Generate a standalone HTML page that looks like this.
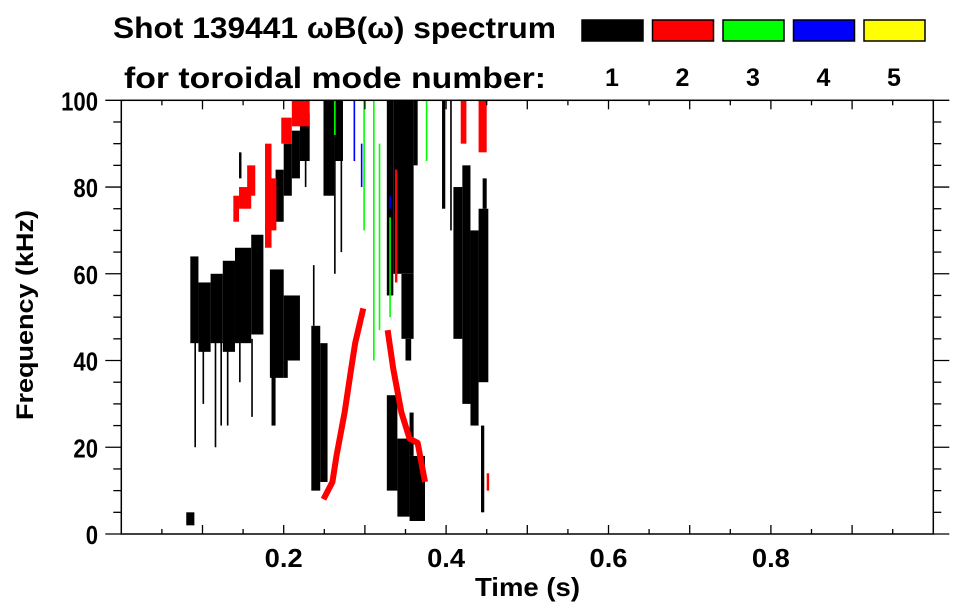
<!DOCTYPE html>
<html><head><meta charset="utf-8"><style>
html,body{margin:0;padding:0;background:#fff;}
svg{display:block;font-family:"Liberation Sans",sans-serif;font-weight:bold;}
</style></head><body>
<svg id="chart" width="963" height="615" viewBox="0 0 963 615" xmlns="http://www.w3.org/2000/svg">
<text x="113" y="38" font-size="30" textLength="443" lengthAdjust="spacingAndGlyphs">Shot 139441 ωB(ω) spectrum</text>
<text x="124" y="88" font-size="30" textLength="422" lengthAdjust="spacingAndGlyphs">for toroidal mode number:</text>
<g id="legend"></g>
<g id="marks"></g>
<g id="axes"></g>
<text x="475" y="596" font-size="26" textLength="105" lengthAdjust="spacingAndGlyphs">Time (s)</text>
<text transform="translate(33,420) rotate(-90)" font-size="24" textLength="210" lengthAdjust="spacingAndGlyphs">Frequency (kHz)</text>
</svg>
<script>
const modeLabels = ['1','2','3','4','5'];
const modeColors = ['#000000','#ff0000','#00ff00','#0000ff','#ffff00'];
const xTickValues = [0.05,0.1,0.15,0.2,0.25,0.3,0.35,0.4,0.45,0.5,0.55,0.6,0.65,0.7,0.75,0.8,0.85,0.9,0.95];
const xTickLabels = ['0.2','0.4','0.6','0.8'];
const yTickValues = [0,5,10,15,20,25,30,35,40,45,50,55,60,65,70,75,80,85,90,95,100];
const yTickLabels = ['0','20','40','60','80','100'];
// blobs: [tStart, tEnd, fLow, fHigh, modeIndex]
const blobStart = [0.085,0.095,0.11,0.125,0.14,0.16,0.09,0.1,0.115,0.122,0.13,0.145,0.16,0.183,0.2,0.185,0.2,0.19,0.2,0.21,0.22,0.226,0.145,0.234,0.245,0.236,0.249,0.262,0.262,0.27,0.327,0.335,0.345,0.35,0.36,0.327,0.34,0.355,0.355,0.395,0.405,0.409,0.42,0.43,0.44,0.443,0.445,0.08,
 0.138,0.145,0.155,0.177,0.185,0.197,0.21,0.337,0.418,0.44,0.45,
 0.298,0.31,0.317,0.33,0.375,0.262,
 0.286,0.295,0.33];
const blobEnd = [0.095,0.11,0.125,0.14,0.16,0.175,0.092,0.102,0.117,0.124,0.132,0.147,0.162,0.2,0.22,0.19,0.205,0.2,0.21,0.22,0.232,0.228,0.148,0.245,0.254,0.238,0.262,0.273,0.264,0.272,0.335,0.36,0.36,0.357,0.365,0.34,0.355,0.374,0.36,0.399,0.407,0.42,0.43,0.44,0.452,0.447,0.45,0.09,
 0.145,0.16,0.165,0.185,0.191,0.21,0.232,0.34,0.425,0.45,0.453,
 0.3,0.312,0.319,0.332,0.377,0.264,
 0.288,0.297,0.332];
const blobLow = [44,42,44,42,44,46,20,30,20,25,25,35,27,36,40,25,36,72,78,82,86,80,82,10,12,48,78,86,60,65,55,60,45,40,85,10,4,3,18,75,70,45,30,25,35,5,75,2,
 72,75,78,66,70,90,94,58,90,88,10,
 70,40,47,50,86,92,
 86,80,75];
const blobHigh = [64,58,60,63,66,69,45,45,45,45,45,45,45,61,55,40,40,84,90,93,97,100,88,48,44,62,100,100,86,86,100,100,60,45,100,32,22,18,28,100,100,80,85,70,75,25,82,5,
 78,80,85,90,82,96,100,84,100,100,14,
 100,100,90,73,100,100,
 100,90,78];
const blobMode = [0,0,0,0,0,0,0,0,0,0,0,0,0,0,0,0,0,0,0,0,0,0,0,0,0,0,0,0,0,0,0,0,0,0,0,0,0,0,0,0,0,0,0,0,0,0,0,0,
 1,1,1,1,1,1,1,1,1,1,1,
 2,2,2,2,2,2,
 3,3,3];
const trace1T = [0.249,0.26,0.265,0.275,0.283,0.288,0.298];
const trace1F = [8,12,18,28,38,44,52];
const trace2T = [0.328,0.335,0.345,0.355,0.365,0.374];
const trace2F = [47,38,28,22,21,12];

const X0=121.3, X1=933.3, Y0=534, Y1=100.3;
function xs(t){return X0+t*(X1-X0);}
function ys(f){return Y0-f/100*(Y0-Y1);}
const NS='http://www.w3.org/2000/svg';
function mk(tag,parent,attrs){const e=document.createElementNS(NS,tag);for(const k in attrs)e.setAttribute(k,attrs[k]);parent.appendChild(e);return e;}

const marks=document.getElementById('marks');
for(let i=0;i<blobStart.length;i++){
  const x=xs(blobStart[i]), w=Math.max(1.5,xs(blobEnd[i])-x);
  const y=ys(blobHigh[i]), h=ys(blobLow[i])-y;
  const r=mk('rect',marks,{x:x,y:y,width:w,height:h,fill:modeColors[blobMode[i]]});
  
  
}
function trace(T,F,name){
  let d='';for(let i=0;i<T.length;i++)d+=(i?'L':'M')+xs(T[i])+','+ys(F[i]);
  const p=mk('path',marks,{d:d,fill:'none',stroke:modeColors[1],'stroke-width':6,'stroke-linejoin':'round'});
  
  
}
trace(trace1T,trace1F,'mode2-rising-trace');
trace(trace2T,trace2F,'mode2-falling-trace');

const axes=document.getElementById('axes');
const frame=mk('rect',axes,{x:X0,y:Y1,width:X1-X0,height:Y0-Y1,fill:'none',stroke:'#000','stroke-width':1.5});


xTickValues.forEach((t,i)=>{
  const major=(i%2===1), len=major?9:5, x=xs(t);
  mk('line',axes,{x1:x,y1:Y0,x2:x,y2:Y0-len,stroke:'#000','stroke-width':1.3});
  mk('line',axes,{x1:x,y1:Y1,x2:x,y2:Y1+len,stroke:'#000','stroke-width':1.3});
});
xTickLabels.forEach((s,i)=>{
  const tx=mk('text',axes,{x:xs(0.2*(i+1))-19,y:567,'font-size':26,textLength:38,lengthAdjust:'spacingAndGlyphs'});
  tx.textContent=s;
  
  
});
yTickValues.forEach((f,i)=>{
  const major=(i%4===0), y=ys(f);
  mk('line',axes,{x1:X0,y1:y,x2:X0-(major?16:8),y2:y,stroke:'#000','stroke-width':1.3});
  mk('line',axes,{x1:X1,y1:y,x2:X1+(major?16:8),y2:y,stroke:'#000','stroke-width':1.3});
});
yTickLabels.forEach((s,i)=>{
  const w=s.length*12.3;
  const tx=mk('text',axes,{x:98-w,y:ys(20*i)+10,'font-size':26,textLength:w,lengthAdjust:'spacingAndGlyphs'});
  tx.textContent=s;
  
  
});

const legend=document.getElementById('legend');
modeLabels.forEach((s,i)=>{
  const x=582+i*70.5;
  const r=mk('rect',legend,{x:x,y:20,width:61,height:21,fill:modeColors[i],stroke:'#000','stroke-width':1.5});
  
  
  const tx=mk('text',legend,{x:x+30,y:86,'font-size':25,'text-anchor':'middle'});
  tx.textContent=s;
  
  
});
</script>
</body></html>
